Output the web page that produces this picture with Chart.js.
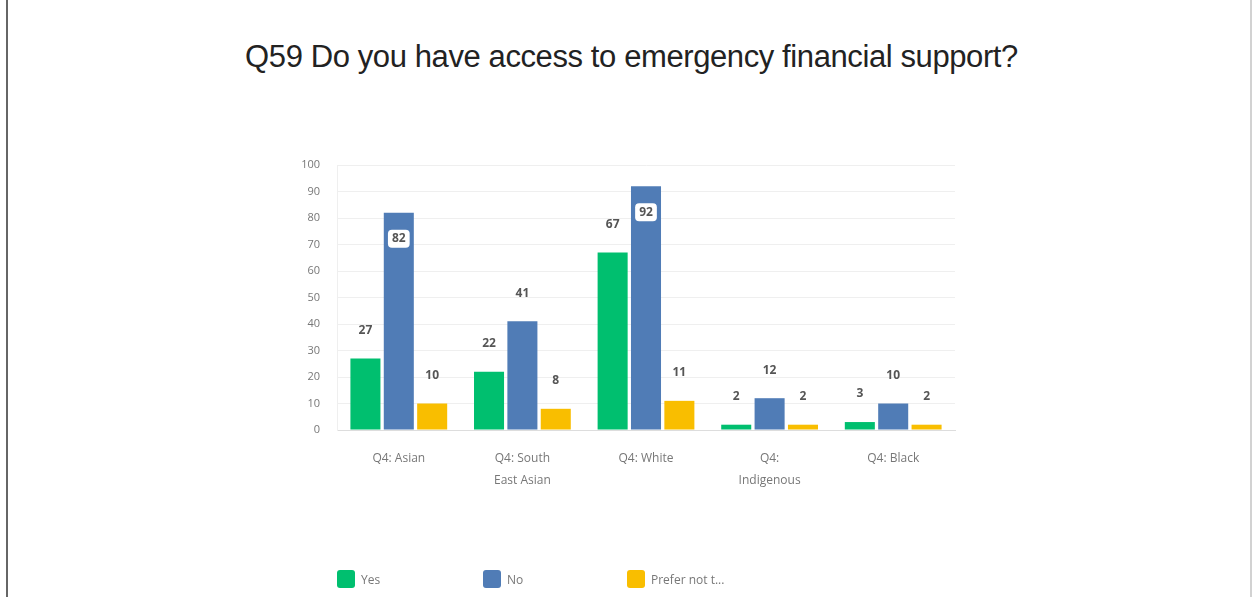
<!DOCTYPE html>
<html>
<head>
<meta charset="utf-8">
<script src="https://cdn.jsdelivr.net/npm/chart.js@4.4.1/dist/chart.umd.min.js"></script>
<style>
  html, body { margin: 0; padding: 0; background: #fff; }
  #wrap { position: relative; width: 1253px; height: 597px; overflow: hidden; }
  #chart { position: absolute; left: 0; top: 0; }
  .edge-left { position: absolute; left: 6px; top: 0; width: 2px; height: 597px; background: #666; }
  .edge-right { position: absolute; left: 1250px; top: 0; width: 2px; height: 597px; background: #d2d2d2; }
  #title {
    position: absolute; left: 0; width: 1263px; top: 39px; text-align: center;
    font-family: "Liberation Sans", Arial, sans-serif;
    font-size: 31px; color: #222; letter-spacing: -0.4px;
  }
  #legend { position: absolute; top: 570px; left: 0; width: 1253px; height: 22px; }
  .item { position: absolute; display: flex; align-items: center; font-family: "Open Sans", sans-serif; font-size: 12px; color: #777; }
  .box { width: 18px; height: 18px; border-radius: 3px; margin-right: 6px; }
</style>
</head>
<body>
<div id="wrap">
  <div class="edge-left"></div>
  <div class="edge-right"></div>
  <div id="title">Q59 Do you have access to emergency financial support?</div>
  <canvas id="chart" width="1253" height="597"></canvas>
  <div id="legend"></div>
</div>
<script>
const categories = ['Q4: Asian', ['Q4: South', 'East Asian'], 'Q4: White', ['Q4:', 'Indigenous'], 'Q4: Black'];
const yesValues = [27, 22, 67, 2, 3];
const noValues = [82, 41, 92, 12, 10];
const preferValues = [10, 8, 11, 2, 2];
const seriesNames = ['Yes', 'No', 'Prefer not t...'];
const seriesColors = ['#00bf6f', '#507cb6', '#f9be00'];
const yTicks = [0, 10, 20, 30, 40, 50, 60, 70, 80, 90, 100];

// value labels above each bar; tall bars get a white tag inside the bar top
const valueLabels = {
    id: 'valueLabels',
    afterDatasetsDraw(chart) {
        const ctx = chart.ctx;
        ctx.save();
        ctx.font = 'bold 12px "Open Sans", sans-serif';
        ctx.textAlign = 'center';
        ctx.textBaseline = 'middle';
        chart.data.datasets.forEach((ds, i) => {
            chart.getDatasetMeta(i).data.forEach((bar, j) => {
                const v = ds.data[j];
                const text = String(v);
                if (v > 75) {
                    const y = bar.y + 26;
                    const w = ctx.measureText(text).width + 8;
                    ctx.fillStyle = '#fff';
                    ctx.beginPath();
                    ctx.roundRect(bar.x - w / 2, y - 9, w, 18, 4);
                    ctx.fill();
                    ctx.fillStyle = '#555';
                    ctx.fillText(text, bar.x, y);
                } else {
                    ctx.fillStyle = '#555';
                    ctx.fillText(text, bar.x, bar.y - 28);
                }
            });
        });
        ctx.restore();
    }
};

const chart = new Chart(document.getElementById('chart'), {
    type: 'bar',
    data: {
        labels: categories,
        datasets: [
            { label: seriesNames[0], data: yesValues, backgroundColor: seriesColors[0] },
            { label: seriesNames[1], data: noValues, backgroundColor: seriesColors[1] },
            { label: seriesNames[2], data: preferValues, backgroundColor: seriesColors[2] }
        ]
    },
    options: {
        responsive: false,
        animation: false,
        events: [],
        datasets: { bar: { barPercentage: 0.9, categoryPercentage: 0.81 } },
        layout: { padding: { left: 280, right: 298, top: 165, bottom: 97 } },
        plugins: { legend: { display: false }, tooltip: { enabled: false } },
        scales: {
            x: {
                grid: { display: false },
                border: { color: '#ddd' },
                ticks: { color: '#777', font: { family: '"Open Sans", sans-serif', size: 12, lineHeight: 1.8 }, padding: 10, maxRotation: 0 },
                afterFit(scale) { scale.height = 70; }
            },
            y: {
                min: 0,
                max: 100,
                afterBuildTicks(scale) { scale.ticks = yTicks.map(v => ({ value: v })); },
                grid: { color: ctx => ctx.tick && ctx.tick.value === 0 ? '#d6d6d6' : '#efefef', drawTicks: false },
                border: { color: '#efefef' },
                ticks: { color: '#777', font: { family: '"Open Sans", sans-serif', size: 11 }, padding: 17 },
                afterFit(scale) { scale.width = 57; }
            }
        }
    },
    plugins: [valueLabels]
});

// legend row below the chart
const legend = document.getElementById('legend');
const legendX = [337, 483, 627];
chart.data.datasets.forEach((ds, i) => {
    const item = document.createElement('div');
    item.className = 'item';
    item.style.left = legendX[i] + 'px';
    item.innerHTML = '<span class="box" style="background:' + ds.backgroundColor + '"></span>' + ds.label;
    legend.appendChild(item);
});
</script>
</body>
</html>
